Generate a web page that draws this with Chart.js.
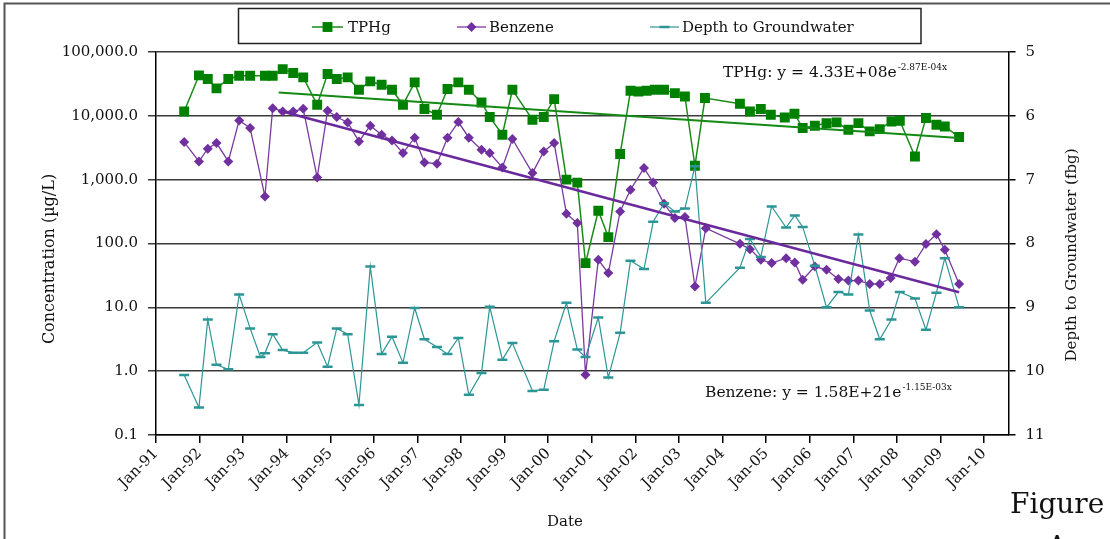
<!DOCTYPE html>
<html>
<head>
<meta charset="utf-8">
<script src="https://cdn.jsdelivr.net/npm/chart.js@4"></script>
<style>
html,body{margin:0;padding:0;background:#fff;}
#wrap{width:1110px;height:539px;position:relative;overflow:hidden;}
</style>
</head>
<body>
<div id="wrap"><canvas id="c" width="1110" height="539"></canvas></div>
<script>
// ---------- DATA ----------
const yearTicks = [1991,1992,1993,1994,1995,1996,1997,1998,1999,2000,2001,2002,2003,2004,2005,2006,2007,2008,2009,2010];
const concTicks = [0.1,1,10,100,1000,10000,100000];
const depthTicks = [5,6,7,8,9,10,11];

const tphgDates = ["1991-08-25","1991-12-27","1992-03-10","1992-05-22","1992-08-29","1992-11-28","1993-02-28","1993-07-02","1993-09-05","1993-11-28",
"1994-02-24","1994-05-19","1994-09-13","1994-12-09","1995-02-24","1995-05-26","1995-08-29","1995-12-02","1996-03-06","1996-06-01",
"1996-09-01","1996-12-08","1997-02-28","1997-06-13","1997-09-09","1997-12-09","1998-03-07","1998-06-21","1998-08-29","1998-12-13",
"1999-03-07","1999-08-22","1999-11-25","2000-02-20","2000-06-02","2000-09-01","2000-11-09","2001-02-24","2001-05-19","2001-08-26",
"2001-11-21","2002-01-26","2002-04-05","2002-06-13","2002-08-29","2002-11-28","2003-02-20","2003-05-15","2003-08-07","2004-05-26",
"2004-08-18","2004-11-17","2005-02-09","2005-06-06","2005-08-26","2005-11-03","2006-02-13","2006-05-22","2006-08-14","2006-11-21",
"2007-02-13","2007-05-19","2007-08-11","2007-11-17","2008-01-26","2008-06-01","2008-09-01","2008-11-28","2009-02-06","2009-06-06"];
const tphgValues = [11700,43000,37800,26900,37800,42500,42500,42500,42500,54000,
46900,40000,14900,45200,37800,40000,25600,34600,30700,25600,
14900,33400,12800,10400,26300,33400,25600,16200,9600,5060,
25600,8700,9600,18300,1000,900,49.3,326,126,2520,
24700,24000,24700,25600,25600,22700,20100,1650,19000,15500,
11700,12800,10400,9440,10800,6440,7000,7700,7900,6050,
7700,5700,6200,8170,8380,2310,9230,7260,6820,4650];

const benzeneDates = ["1991-08-25","1991-12-27","1992-03-10","1992-05-22","1992-08-29","1992-11-28","1993-02-28","1993-07-02","1993-09-05","1993-11-28",
"1994-02-24","1994-05-19","1994-09-13","1994-12-09","1995-02-24","1995-05-26","1995-08-29","1995-12-02","1996-03-06","1996-06-01",
"1996-09-01","1996-12-08","1997-02-28","1997-06-13","1997-09-09","1997-12-09","1998-03-07","1998-06-21","1998-08-29","1998-12-13",
"1999-03-07","1999-08-22","1999-11-25","2000-02-20","2000-06-02","2000-09-01","2000-11-09","2001-02-24","2001-05-19","2001-08-26",
"2001-11-21","2002-03-14","2002-05-30","2002-08-29","2002-11-28","2003-02-20","2003-05-15","2003-08-14","2004-05-26","2004-08-18",
"2004-11-17","2005-02-16","2005-06-17","2005-08-29","2005-11-03","2006-02-13","2006-05-22","2006-08-29","2006-11-21","2007-02-13",
"2007-05-19","2007-08-11","2007-11-10","2008-01-22","2008-06-01","2008-09-01","2008-11-28","2009-02-06","2009-06-06"];
const benzeneValues = [3880,1930,3050,3750,1930,8480,6440,546,13200,11700,
11700,12900,1080,12000,9570,7890,3970,7000,5060,4110,
2610,4540,1860,1780,4540,8000,4540,2950,2610,1550,
4330,1270,2770,3750,292,209,0.875,55.6,34.4,318,
695,1520,904,419,250,259,21.2,174,98.9,81.6,
55.6,49.3,59,50.4,27,43.6,38.7,27.7,26.3,26.3,
23.3,23.3,28.7,59,52,98,140,79.6,23.3];

const depthDates = ["1991-08-25","1991-12-27","1992-03-10","1992-05-22","1992-08-29","1992-11-28","1993-02-28","1993-05-26","1993-07-02","1993-09-05",
"1993-11-28","1994-02-24","1994-05-19","1994-09-13","1994-12-09","1995-02-24","1995-05-26","1995-08-29","1995-12-02","1996-03-06",
"1996-06-01","1996-09-01","1996-12-08","1997-02-28","1997-06-13","1997-09-09","1997-12-09","1998-03-07","1998-06-21","1998-08-29",
"1998-12-13","1999-03-07","1999-08-22","1999-11-25","2000-02-20","2000-06-02","2000-09-01","2000-11-09","2001-02-24","2001-05-19",
"2001-08-26","2001-11-21","2002-03-14","2002-05-30","2002-08-29","2002-11-28","2003-02-20","2003-05-15","2003-08-14","2004-05-26",
"2004-08-18","2004-11-17","2005-02-16","2005-06-17","2005-08-29","2005-11-03","2006-02-13","2006-05-22","2006-08-29","2006-11-21",
"2007-02-13","2007-05-19","2007-08-11","2007-11-17","2008-01-26","2008-06-01","2008-09-01","2008-11-28","2009-02-06","2009-06-06"];
const depthValues = [10.06,10.57,9.19,9.90,9.97,8.80,9.33,9.78,9.72,9.42,
9.67,9.71,9.71,9.55,9.93,9.33,9.42,10.53,8.36,9.73,
9.46,9.87,9.01,9.50,9.62,9.73,9.48,10.37,10.03,8.99,
9.82,9.56,10.31,10.29,9.53,8.93,9.66,9.78,9.16,10.10,
9.40,8.27,8.40,7.66,7.37,7.50,7.45,6.79,8.93,8.38,
7.93,8.21,7.42,7.75,7.56,7.74,8.35,9.00,8.76,8.80,
7.86,9.05,9.50,9.19,8.76,8.86,9.35,8.77,8.23,9.00];

// exponential trendlines as printed on the chart (x = Excel date serial)
const tphgTrend = {a:4.33e8, b:-2.87e-4, label:"TPHg: y = 4.33E+08e", exp:"-2.87E-04x"};
const benzeneTrend = {a:1.58e21, b:-1.15e-3, label:"Benzene: y = 1.58E+21e", exp:"-1.15E-03x"};
const trendRange = ["1993-10-25","2009-06-06"];

// ---------- HELPERS ----------
function serial(s){const p=s.split('-').map(Number);return (Date.UTC(p[0],p[1]-1,p[2])-Date.UTC(1899,11,30))/86400000;}
function pts(dates,vals){return dates.map((d,i)=>({x:serial(d),y:vals[i]}));}
function trendPts(t){return trendRange.map(d=>{const x=serial(d);return {x:x,y:t.a*Math.exp(t.b*x)};});}
const MON=['Jan','Feb','Mar','Apr','May','Jun','Jul','Aug','Sep','Oct','Nov','Dec'];
function serialLabel(v){const dt=new Date(Date.UTC(1899,11,30)+v*86400000);return MON[dt.getUTCMonth()]+'-'+String(dt.getUTCFullYear()%100).padStart(2,'0');}

const FONT='DejaVu Serif';
const C_TPHG='#008000', C_BENZ='#7030A0', C_DTW='#2C9595';

const overlay={
  id:'overlay',
  afterDraw(chart){
    const ctx=chart.ctx;
    ctx.save();
    // outer frame
    ctx.strokeStyle='#555';ctx.lineWidth=2;
    ctx.beginPath();ctx.moveTo(4.5,539);ctx.lineTo(4.5,3.5);ctx.lineTo(1110,3.5);ctx.stroke();
    // legend box
    ctx.fillStyle='#fff';ctx.fillRect(238.5,8.5,682.5,35);
    ctx.strokeStyle='#222';ctx.lineWidth=1.5;ctx.strokeRect(238.5,8.5,682.5,35);
    const ly=27;
    const items=[{i:0,x0:312,x1:343,tx:348},{i:1,x0:457,x1:486,tx:489},{i:2,x0:650,x1:679,tx:682}];
    items.forEach(it=>{
      const ds=chart.data.datasets[it.i];
      ctx.strokeStyle=ds.borderColor;ctx.lineWidth=ds.borderWidth;
      ctx.beginPath();ctx.moveTo(it.x0,ly);ctx.lineTo(it.x1,ly);ctx.stroke();
      const cx=(it.x0+it.x1)/2;
      ctx.fillStyle=ds.pointBackgroundColor;
      if(ds.pointStyle==='rect'){const s=Math.SQRT1_2*ds.pointRadius;ctx.fillRect(cx-s,ly-s,2*s,2*s);}
      else if(ds.pointStyle==='rectRot'){const r=ds.pointRadius;ctx.beginPath();ctx.moveTo(cx,ly-r);ctx.lineTo(cx+r,ly);ctx.lineTo(cx,ly+r);ctx.lineTo(cx-r,ly);ctx.closePath();ctx.fill();}
      else {ctx.strokeStyle=ds.pointBorderColor;ctx.lineWidth=ds.pointBorderWidth;ctx.beginPath();ctx.moveTo(cx-ds.pointRadius,ly);ctx.lineTo(cx+ds.pointRadius,ly);ctx.stroke();}
      ctx.fillStyle='#111';ctx.font='15px "'+FONT+'"';ctx.textAlign='left';ctx.textBaseline='middle';
      ctx.fillText(ds.label,it.tx,ly+1);
    });
    // equations
    function eq(t,x,y){
      ctx.fillStyle='#111';ctx.textAlign='left';ctx.textBaseline='alphabetic';
      ctx.font='15.5px "'+FONT+'"';ctx.fillText(t.label,x,y);
      const w=ctx.measureText(t.label).width;
      ctx.font='9px "'+FONT+'"';ctx.fillText(t.exp,x+w+1,y-7);
    }
    eq(tphgTrend,723,77);
    eq(benzeneTrend,705,397);
    // axis titles
    ctx.fillStyle='#111';ctx.textAlign='center';ctx.textBaseline='middle';
    ctx.font='16px "'+FONT+'"';
    ctx.save();ctx.translate(49.5,259);ctx.rotate(-Math.PI/2);ctx.fillText('Concentration (\u00b5g/L)',0,0);ctx.restore();
    ctx.font='15px "'+FONT+'"';
    ctx.save();ctx.translate(1072,255);ctx.rotate(-Math.PI/2);ctx.fillText('Depth to Groundwater (fbg)',0,0);ctx.restore();
    ctx.fillText('Date',565,522);
    // figure caption
    ctx.font='28px "'+FONT+'"';ctx.textAlign='left';ctx.textBaseline='alphabetic';
    ctx.fillText('Figure',1010,513);
    ctx.textAlign='center';ctx.fillText('A',1057,556);
    ctx.restore();
  }
};

const tickFont={family:FONT,size:15};
new Chart(document.getElementById('c'),{
  type:'line',
  data:{datasets:[
    {label:'TPHg',data:pts(tphgDates,tphgValues),yAxisID:'y',borderColor:'#1a8a1a',borderWidth:1.5,
     pointStyle:'rect',pointRadius:7,pointBackgroundColor:C_TPHG,pointBorderColor:C_TPHG,pointBorderWidth:0,order:5},
    {label:'Benzene',data:pts(benzeneDates,benzeneValues),yAxisID:'y',borderColor:'#7a3aa0',borderWidth:1.3,
     pointStyle:'rectRot',pointRadius:5,pointBackgroundColor:C_BENZ,pointBorderColor:C_BENZ,pointBorderWidth:0,order:4},
    {label:'Depth to Groundwater',data:pts(depthDates,depthValues),yAxisID:'y2',borderColor:C_DTW,borderWidth:1.2,
     pointStyle:'line',pointRadius:5,pointBackgroundColor:C_DTW,pointBorderColor:C_DTW,pointBorderWidth:2.5,order:3},
    {label:'TPHg trend',data:trendPts(tphgTrend),yAxisID:'y',borderColor:'#138a13',borderWidth:2,pointRadius:0,order:2},
    {label:'Benzene trend',data:trendPts(benzeneTrend),yAxisID:'y',borderColor:'#6a2a9c',borderWidth:2.5,pointRadius:0,order:1}
  ]},
  options:{
    responsive:false,animation:false,devicePixelRatio:1,
    layout:{padding:{top:52,left:0,right:0,bottom:0}},
    plugins:{legend:{display:false},tooltip:{enabled:false}},
    elements:{line:{tension:0}},
    scales:{
      x:{type:'linear',min:serial('1991-01-01'),max:40384,
         afterBuildTicks:s=>{s.ticks=yearTicks.map(y=>({value:serial(y+'-01-01')}));},
         afterFit:s=>{s.height=104;},
         grid:{drawOnChartArea:false,drawTicks:true,tickLength:8,color:'#000',lineWidth:1.5},
         border:{display:true,color:'#000',width:1.5},
         ticks:{autoSkip:false,maxRotation:45,minRotation:45,padding:2,font:{family:FONT,size:15},color:'#111',callback:v=>serialLabel(v)}},
      y:{type:'logarithmic',position:'left',min:0.1,max:100000,
         afterBuildTicks:s=>{s.ticks=concTicks.map(v=>({value:v}));},
         afterFit:s=>{s.width=156;},
         grid:{color:'#3a3a3a',lineWidth:1.5,tickLength:8,drawTicks:true},
         border:{display:true,color:'#000',width:1.5},
         ticks:{padding:10,font:tickFont,color:'#111',callback:v=>Number(v).toLocaleString('en-US',{minimumFractionDigits:1,maximumFractionDigits:1})}},
      y2:{type:'linear',position:'right',reverse:true,min:5,max:11,
         afterBuildTicks:s=>{s.ticks=depthTicks.map(v=>({value:v}));},
         afterFit:s=>{s.width=101.5;},
         grid:{drawOnChartArea:false,drawTicks:true,tickLength:7,color:'#000',lineWidth:1.5},
         border:{display:true,color:'#000',width:1.5},
         ticks:{padding:10,font:tickFont,color:'#111',callback:v=>String(v)}}
    }
  },
  plugins:[overlay]
});
</script>
</body>
</html>
